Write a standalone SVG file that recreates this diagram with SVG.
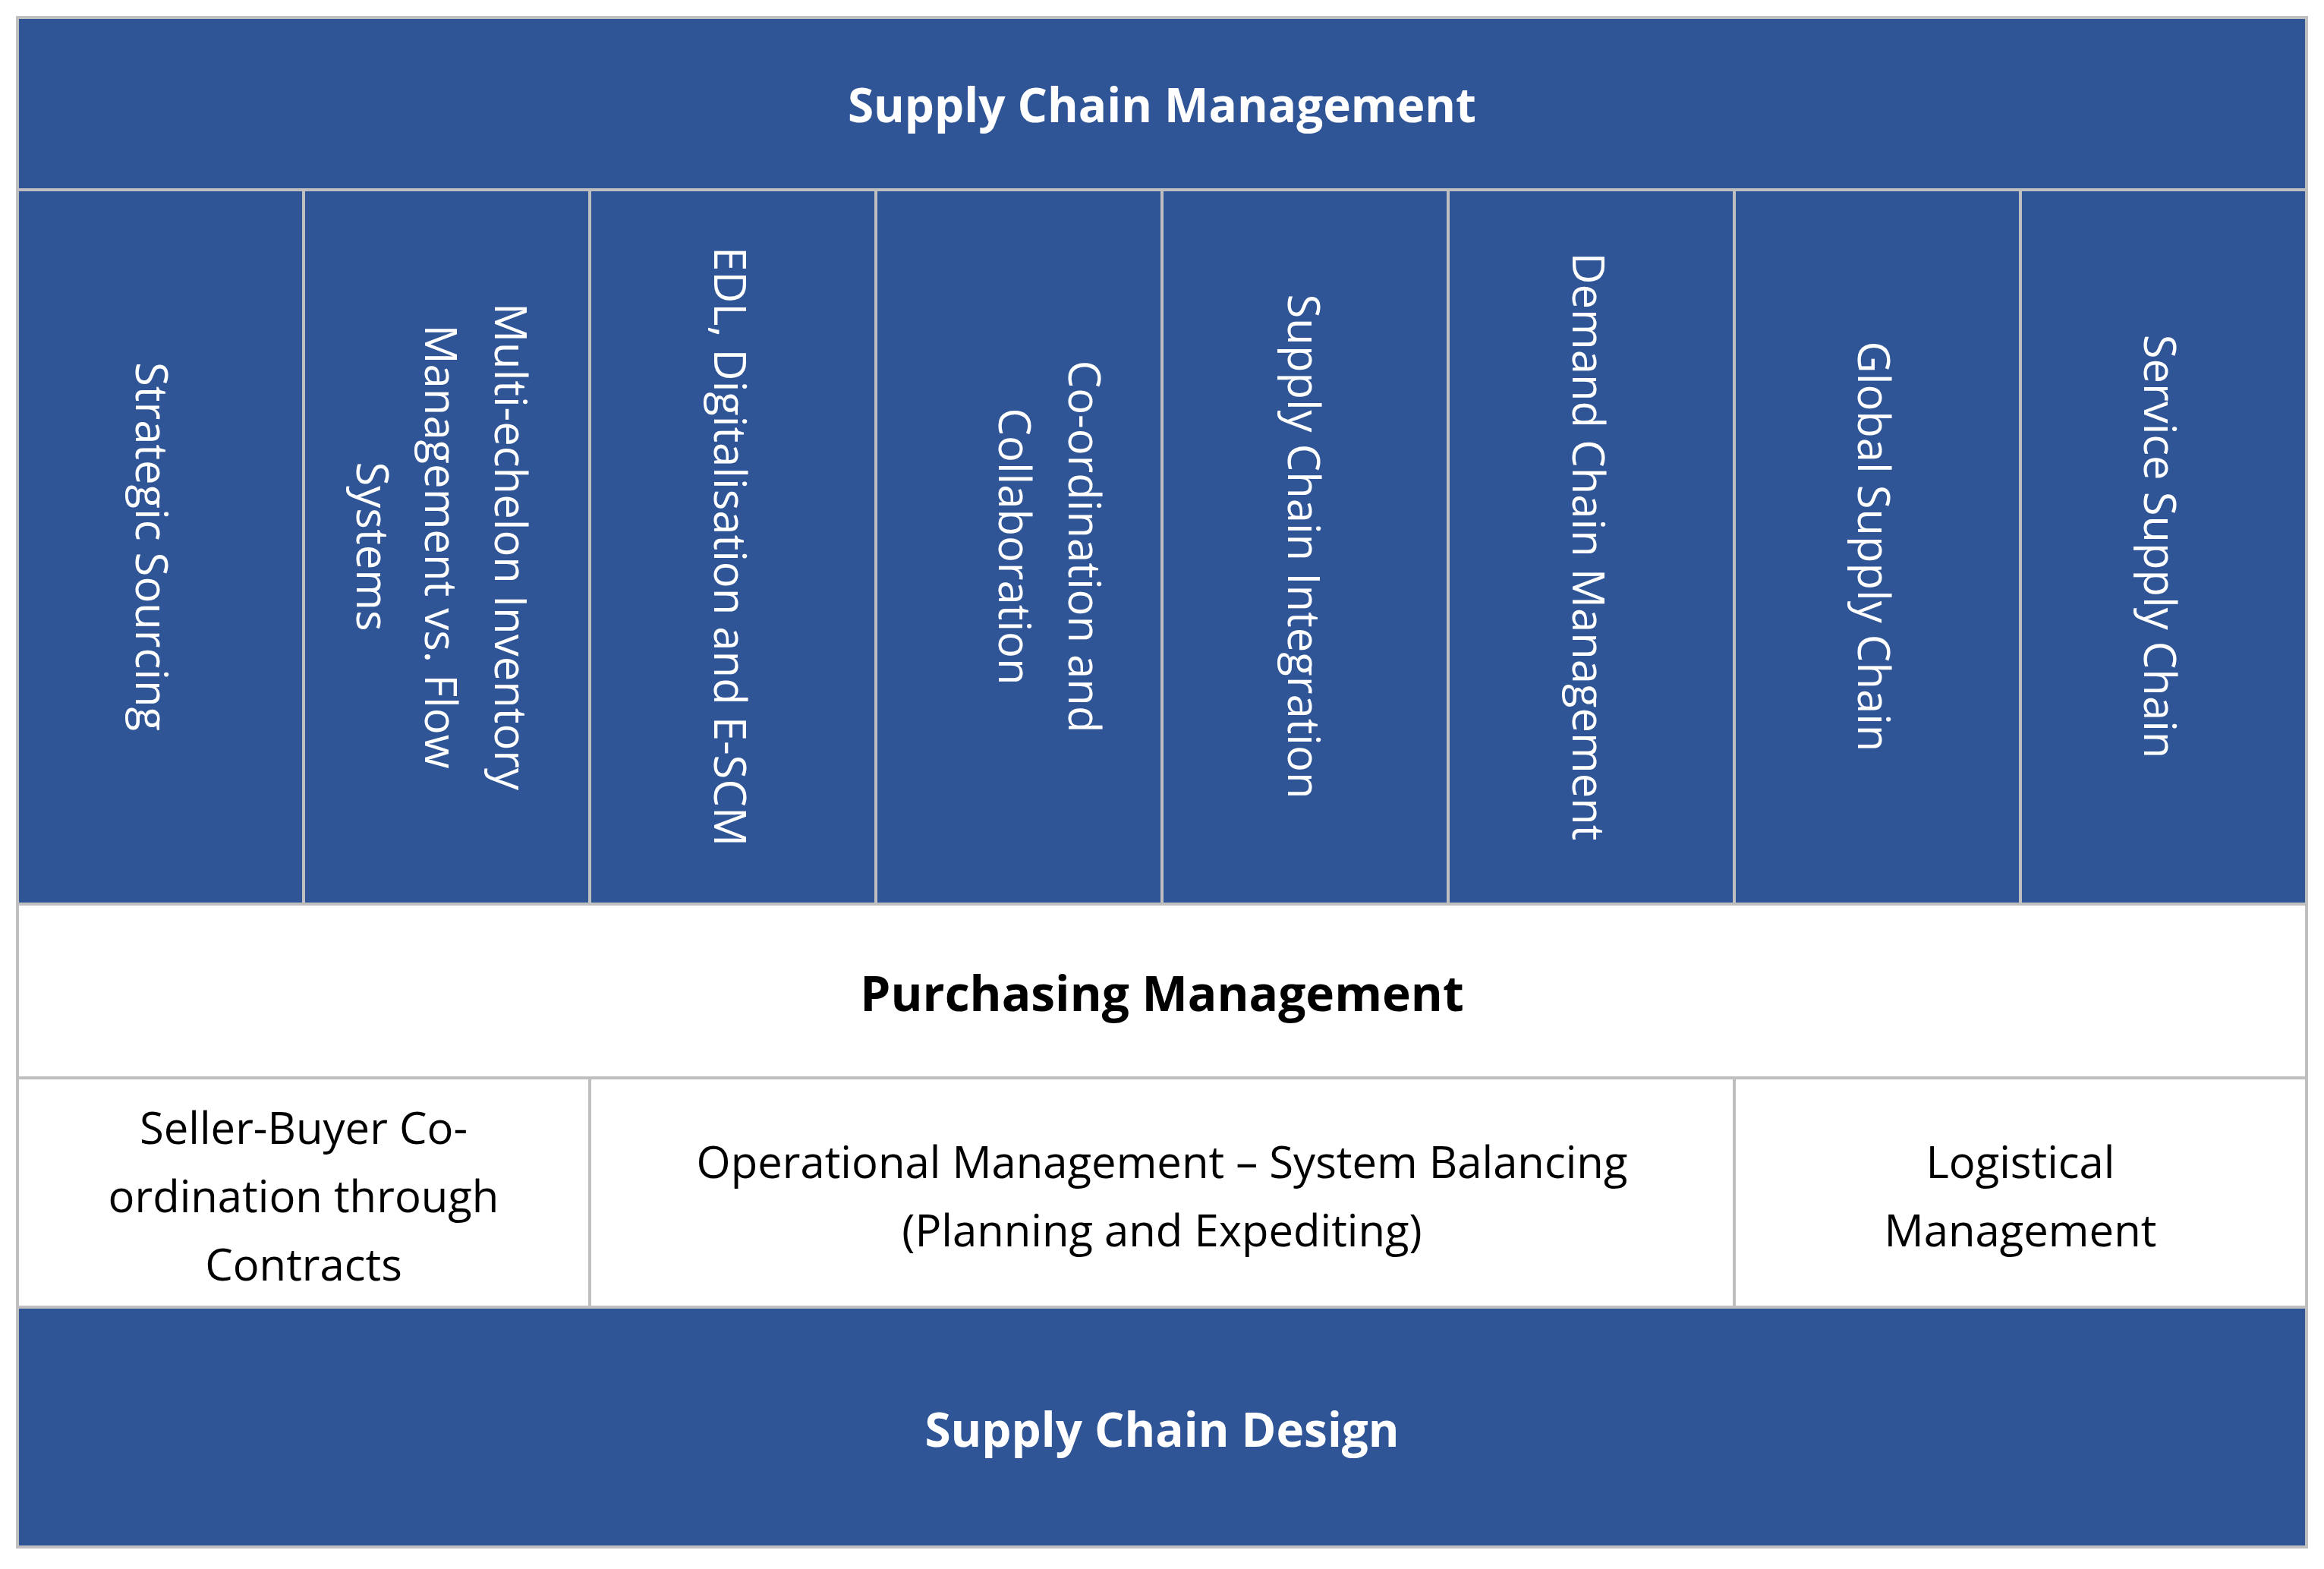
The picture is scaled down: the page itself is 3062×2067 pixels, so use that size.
<svg xmlns="http://www.w3.org/2000/svg" width="3062" height="2067" viewBox="0 0 3062 2067">
<style>
.b{fill:#2F5597;stroke:#BFBFBF;stroke-width:4}
.w{fill:#FFFFFF;stroke:#BFBFBF;stroke-width:4}
text{font-family:"Open Sans","Noto Sans","Liberation Sans",sans-serif;text-anchor:middle;dominant-baseline:central}
.h{fill:#fff;font-weight:bold;font-size:62px}
.v{fill:#fff;font-size:58px}
.d{fill:#000;font-size:58px}
.p{fill:#000;font-weight:bold;font-size:64px}
</style>
<rect width="3062" height="2067" fill="#fff"/>
<g id="scm"><rect class="b" x="23" y="23" width="3016" height="227"/><text class="h" x="1531" y="137">Supply Chain Management</text></g>
<g id="col1"><rect class="b" x="23" y="250" width="377" height="941"/><text class="v" transform="translate(201,720) rotate(90)">Strategic Sourcing</text></g>
<g id="col2"><rect class="b" x="400" y="250" width="377" height="941"/>
<text class="v" transform="translate(674,720) rotate(90)">Multi-echelon Inventory</text>
<text class="v" transform="translate(582,720) rotate(90)">Management vs. Flow</text>
<text class="v" transform="translate(492,720) rotate(90)">Systems</text></g>
<g id="col3"><rect class="b" x="777" y="250" width="377" height="941"/><text class="v" transform="translate(963,720) rotate(90)">EDL, Digitalisation and E-SCM</text></g>
<g id="col4"><rect class="b" x="1154" y="250" width="377" height="941"/>
<text class="v" transform="translate(1430,720) rotate(90)">Co-ordination and</text>
<text class="v" transform="translate(1338,720) rotate(90)">Collaboration</text></g>
<g id="col5"><rect class="b" x="1531" y="250" width="377" height="941"/><text class="v" transform="translate(1719,720) rotate(90)">Supply Chain Integration</text></g>
<g id="col6"><rect class="b" x="1908" y="250" width="377" height="941"/><text class="v" transform="translate(2094,720) rotate(90)">Demand Chain Management</text></g>
<g id="col7"><rect class="b" x="2285" y="250" width="377" height="941"/><text class="v" transform="translate(2470,720) rotate(90)">Global Supply Chain</text></g>
<g id="col8"><rect class="b" x="2662" y="250" width="377" height="941"/><text class="v" transform="translate(2847,720) rotate(90)">Service Supply Chain</text></g>
<g id="pm"><rect class="w" x="23" y="1191" width="3016" height="229"/><text class="p" x="1531" y="1307">Purchasing Management</text></g>
<g id="sb"><rect class="w" x="23" y="1420" width="754" height="302"/>
<text class="d" x="400" y="1484">Seller-Buyer Co-</text><text class="d" x="400" y="1574">ordination through</text><text class="d" x="400" y="1664">Contracts</text></g>
<g id="om"><rect class="w" x="777" y="1420" width="1508" height="302"/>
<text class="d" x="1531" y="1529">Operational Management – System Balancing</text><text class="d" x="1531" y="1619">(Planning and Expediting)</text></g>
<g id="lm"><rect class="w" x="2285" y="1420" width="754" height="302"/>
<text class="d" x="2662" y="1529">Logistical</text><text class="d" x="2662" y="1619">Management</text></g>
<g id="scd"><rect class="b" x="23" y="1722" width="3016" height="316"/><text class="h" x="1531" y="1882">Supply Chain Design</text></g>
<g id="connectors"/>
</svg>
